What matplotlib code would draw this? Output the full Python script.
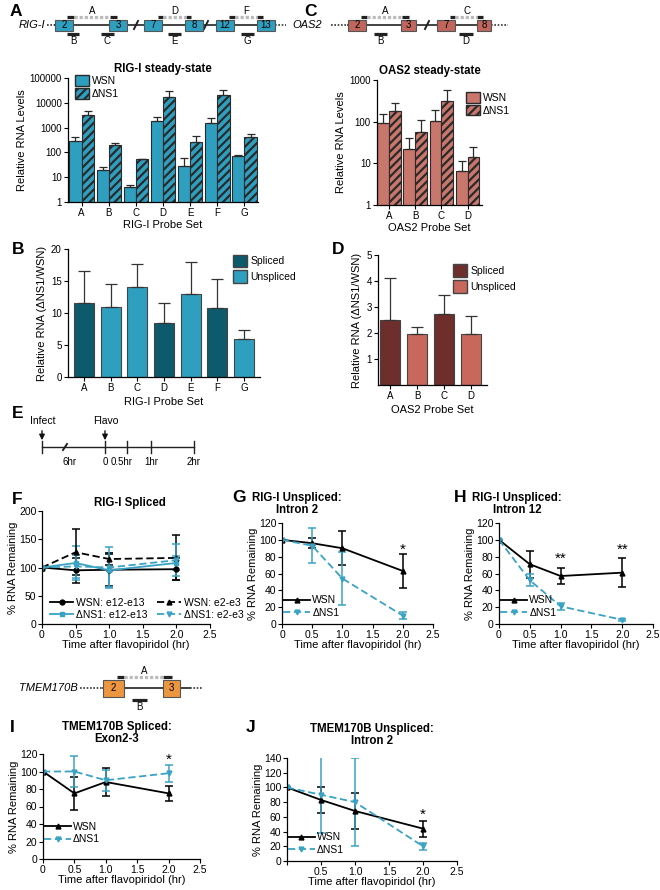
import numpy as np
import matplotlib
matplotlib.use("Agg")
import matplotlib.pyplot as plt
from matplotlib.patches import Rectangle, Patch
from matplotlib.lines import Line2D

plt.rcParams['font.family'] = ['Liberation Sans', 'DejaVu Sans']
plt.rcParams['hatch.linewidth'] = 1.6
plt.rcParams['axes.linewidth'] = 0.9

# ---- data ----
rig_probes = ['A', 'B', 'C', 'D', 'E', 'F', 'G']
rig_wsn = [300, 20, 4, 1800, 28, 1600, 70]
rig_wsn_top = [400, 25, 5, 2800, 60, 2500, 82]
rig_dns1 = [3300, 200, 53, 17000, 270, 20000, 420]
rig_dns1_top = [4600, 235, 56, 29000, 450, 33000, 570]

oas_probes = ['A', 'B', 'C', 'D']
oas_wsn = [95, 22, 102, 6.6]
oas_wsn_top = [155, 41, 190, 11.2]
oas_dns1 = [180, 58, 320, 14]
oas_dns1_top = [285, 110, 580, 24]

rig_ratio = [11.6, 11.0, 14.1, 8.4, 13.0, 10.8, 5.9]
rig_ratio_top = [16.6, 14.5, 17.6, 11.6, 18.0, 15.3, 7.4]
rig_spliced = [True, False, False, True, False, True, False]

oas_ratio = [2.5, 1.95, 2.72, 1.95]
oas_ratio_top = [4.1, 2.22, 3.48, 2.67]
oas_spliced = [True, False, True, False]

t = [0, 0.5, 1.0, 2.0]
# F: RIG-I spliced
f_wsn_1213 = [100, 95, 96, 97]
f_wsn_1213_err = [0, 22, 28, 20]
f_wsn_23 = [100, 127, 115, 117]
f_wsn_23_err = [0, 41, 10, 40]
f_dns_1213 = [100, 108, 95, 108]
f_dns_1213_err = [0, 30, 30, 13]
f_dns_23 = [100, 102, 100, 113]
f_dns_23_err = [0, 20, 37, 28]
# G: RIG-I intron 2
g_wsn = [100, 96, 90, 63]
g_wsn_err = [0, 6, 20, 20]
g_dns = [100, 93, 54, 10]
g_dns_err = [0, 21, 31, 4]
# H: RIG-I intron 12
h_wsn = [100, 71, 57, 61]
h_wsn_err = [0, 16, 9, 17]
h_dns = [100, 52, 21, 5]
h_dns_err = [0, 7, 4, 1]
# I: TMEM170B exon2-3
i_wsn = [100, 75, 88, 75]
i_wsn_err = [0, 19, 16, 9]
i_dns = [100, 100, 90, 98]
i_dns_err = [0, 18, 12, 10]
# J: TMEM170B intron 2
j_wsn = [100, 83, 68, 44]
j_wsn_err = [0, 18, 24, 11]
j_dns = [100, 90, 80, 20]
j_dns_err = [0, 52, 60, 5]

TEAL = '#2f9fc0'
TEAL_DARK = '#0d5a6c'
SALMON = '#c9766c'
BROWN = '#6e2f2c'
SALMON_U = '#c8675c'
ORANGE = '#ec9640'
LINE_T = '#3aa3c4'
EDGE = '#2a2a2a'
DASH = (0, (4, 2))

W, H = 660, 890
fig = plt.figure(figsize=(6.6, 8.9), dpi=100)


def ax_px(l, t_, r, b):
    return fig.add_axes([l / W, 1 - b / H, (r - l) / W, (b - t_) / H])


# overlay in pixel coords for schematics and labels
ov = fig.add_axes([0, 0, 1, 1])
ov.set_xlim(0, W)
ov.set_ylim(H, 0)
ov.axis('off')

for lab, x, y in [('A', 10, 12), ('C', 304, 12), ('B', 12, 250), ('D', 332, 250),
                  ('E', 12, 414), ('F', 12, 500), ('G', 232, 498), ('H', 454, 497),
                  ('I', 10, 727), ('J', 246, 728)]:
    ov.text(x, y, lab, fontsize=12.5, fontweight='bold', ha='left', va='center')


def gene(name, name_x, yc, exons, color, h, dots, line_end, breaks, top_probes, bot_probes):
    ov.text(name_x, yc, name, fontsize=8, style='italic', ha='right', va='center')
    ov.plot([dots[0], exons[0][0]], [yc, yc], ls=(0, (1, 1)), color='#333', lw=1.2)
    ov.plot([exons[0][0], line_end], [yc, yc], color='#222', lw=1.2)
    ov.plot([line_end, dots[1]], [yc, yc], ls=(0, (1, 1)), color='#333', lw=1.2)
    for x in breaks:
        ov.plot([x - 2, x + 2], [yc + 4, yc - 4], color='#222', lw=1.4)
    for x0, x1, lab in exons:
        ov.add_patch(Rectangle((x0, yc - h / 2), x1 - x0, h, fc=color, ec='#555', lw=0.8, zorder=3))
        ov.text((x0 + x1) / 2, yc, lab, fontsize=7, ha='center', va='center', zorder=4)
    for (a0, a1), (b0, b1), lab in top_probes:
        yb = yc - h / 2 - 3
        ov.plot([a0, a1], [yb, yb], color='#222', lw=2.3, solid_capstyle='butt')
        ov.plot([b0, b1], [yb, yb], color='#222', lw=2.3, solid_capstyle='butt')
        ov.plot([a1, b0], [yb, yb], color='#bbb', lw=2.3, ls=(0, (1, 0.6)))
        ov.text((a0 + b1) / 2, yb - 6, lab, fontsize=7, ha='center', va='center')
    for b0, b1, lab in bot_probes:
        yb = yc + h / 2 + 3
        ov.plot([b0, b1], [yb, yb], color='#222', lw=2.3, solid_capstyle='butt')
        ov.text((b0 + b1) / 2, yb + 8, lab, fontsize=7, ha='center', va='center')


gene('RIG-I', 45, 25,
     [(55, 73, '2'), (109, 127, '3'), (144, 162, '7'), (185, 203, '8'), (216, 234, '12'), (257, 275, '13')],
     TEAL, 11, (47, 286), 275, [136, 206],
     [((67, 74), (110, 117), 'A'), ((158, 163), (186, 191), 'D'), ((229, 235), (257, 263), 'F')],
     [(67, 79, 'B'), (101, 114, 'C'), (168, 181, 'E'), (241, 254, 'G')])
gene('OAS2', 322, 25,
     [(348, 366, '2'), (401, 416, '3'), (437, 455, '7'), (477, 491, '8')],
     '#c0665d', 11, (331, 508), 491, [427],
     [((361, 367), (402, 409), 'A'), ((450, 455), (477, 483), 'C')],
     [(374, 387, 'B'), (459, 473, 'D')])
gene('TMEM170B', 78, 688,
     [(103, 124, '2'), (163, 180, '3')],
     ORANGE, 17, (80, 203), 190, [],
     [((117, 124), (163, 172), 'A')],
     [(132, 147, 'B')])

# ---- timeline E ----
ty = 447
ov.plot([42, 194], [ty, ty], color='#222', lw=1)
for x in [42, 105, 127, 151, 194]:
    ov.plot([x, x], [ty - 6, ty + 6], color='#222', lw=1)
ov.plot([63, 67], [ty + 3, ty - 3], color='#222', lw=1.4)
for x, lab in [(70, '6hr'), (105, '0'), (122, '0.5hr'), (151, '1hr'), (194, '2hr')]:
    ov.text(x, ty + 15, lab, fontsize=7, ha='center', va='center')
for x, lab in [(42, 'Infect'), (105, 'Flavo')]:
    ov.text(x + 1, 421, lab, fontsize=7.5, ha='center', va='center')
    ov.annotate('', xy=(x, ty - 4), xytext=(x, 428),
                arrowprops=dict(arrowstyle='-|>', color='#111', lw=1, mutation_scale=8))


def style(ax):
    for s in ['top', 'right']:
        ax.spines[s].set_visible(False)
    ax.tick_params(labelsize=7, length=3, width=0.8, pad=1.5)


# ---- A: RIG-I steady state ----
ax = ax_px(68, 78, 258, 202)
x = np.arange(len(rig_probes))
bw = 0.45
wsn = np.array(rig_wsn)
dns = np.array(rig_dns1)
ax.bar(x - bw / 2, wsn, bw, color=TEAL, edgecolor=EDGE, lw=0.8)
ax.bar(x + bw / 2, dns, bw, color=TEAL, edgecolor=EDGE, lw=0.8, hatch='////')
ax.errorbar(x - bw / 2, wsn, yerr=[np.zeros(7), np.array(rig_wsn_top) - wsn], fmt='none',
            ecolor=EDGE, capsize=3, elinewidth=0.9, capthick=0.9)
ax.errorbar(x + bw / 2, dns, yerr=[np.zeros(7), np.array(rig_dns1_top) - dns], fmt='none',
            ecolor=EDGE, capsize=3, elinewidth=0.9, capthick=0.9)
ax.set_yscale('log')
ax.set_ylim(1, 100000)
ax.set_xlim(-0.5, 6.5)
ax.set_yticks([1, 10, 100, 1000, 10000, 100000])
ax.set_yticklabels(['1', '10', '100', '1000', '10000', '100000'])
ax.yaxis.set_minor_locator(matplotlib.ticker.NullLocator())
ax.set_xticks(x)
ax.set_xticklabels(rig_probes, fontsize=8)
ax.tick_params(axis='x', length=0)
style(ax)
ax.set_ylabel('Relative RNA Levels', fontsize=8, labelpad=2)
ax.set_xlabel('RIG-I Probe Set', fontsize=8, labelpad=1)
ax.set_title('RIG-I steady-state', fontsize=8.3, fontweight='bold', pad=4)
ax.legend(handles=[Patch(fc=TEAL, ec=EDGE, label='WSN'),
                   Patch(fc=TEAL, ec=EDGE, hatch='////', label='ΔNS1')],
          loc='upper left', bbox_to_anchor=(-0.01, 1.1), frameon=False, fontsize=7.5,
          handlelength=1.3, handleheight=1.2, handletextpad=0.3, labelspacing=0.2)

# ---- C: OAS2 steady state ----
ax = ax_px(377, 80, 482, 205)
x = np.arange(len(oas_probes))
wsn = np.array(oas_wsn)
dns = np.array(oas_dns1)
ax.bar(x - bw / 2, wsn, bw, color=SALMON, edgecolor=EDGE, lw=0.8)
ax.bar(x + bw / 2, dns, bw, color=SALMON, edgecolor=EDGE, lw=0.8, hatch='////')
ax.errorbar(x - bw / 2, wsn, yerr=[np.zeros(4), np.array(oas_wsn_top) - wsn], fmt='none',
            ecolor=EDGE, capsize=3, elinewidth=0.9, capthick=0.9)
ax.errorbar(x + bw / 2, dns, yerr=[np.zeros(4), np.array(oas_dns1_top) - dns], fmt='none',
            ecolor=EDGE, capsize=3, elinewidth=0.9, capthick=0.9)
ax.set_yscale('log')
ax.set_ylim(1, 1000)
ax.set_xlim(-0.45, 3.55)
ax.set_yticks([1, 10, 100, 1000])
ax.set_yticklabels(['1', '10', '100', '1000'])
ax.yaxis.set_minor_locator(matplotlib.ticker.NullLocator())
ax.set_xticks(x)
ax.set_xticklabels(oas_probes, fontsize=8)
ax.tick_params(axis='x', length=0)
style(ax)
ax.set_ylabel('Relative RNA Levels', fontsize=8, labelpad=2)
ax.set_xlabel('OAS2 Probe Set', fontsize=8, labelpad=1)
ax.set_title('OAS2 steady-state', fontsize=8.3, fontweight='bold', pad=4)
ax.legend(handles=[Patch(fc=SALMON, ec=EDGE, label='WSN'),
                   Patch(fc=SALMON, ec=EDGE, hatch='////', label='ΔNS1')],
          loc='upper left', bbox_to_anchor=(0.76, 0.98), frameon=False, fontsize=7.5,
          handlelength=1.3, handleheight=1.2, handletextpad=0.3, labelspacing=0.2)

# ---- B: RIG-I ratio ----
ax = ax_px(68, 249, 260, 377)
x = np.arange(len(rig_probes))
cols = [TEAL_DARK if s else TEAL for s in rig_spliced]
vals = np.array(rig_ratio)
ax.bar(x, vals, 0.75, color=cols, edgecolor='#444', lw=0.8)
ax.errorbar(x, vals, yerr=[np.zeros(7), np.array(rig_ratio_top) - vals], fmt='none',
            ecolor='#333', capsize=4, elinewidth=0.9, capthick=0.9)
ax.set_ylim(0, 20)
ax.set_xlim(-0.6, 6.6)
ax.set_yticks([0, 5, 10, 15, 20])
ax.set_xticks(x)
ax.set_xticklabels(rig_probes, fontsize=7.5)
ax.tick_params(axis='x', length=0)
style(ax)
ax.set_ylabel('Relative RNA (ΔNS1/WSN)', fontsize=8, labelpad=3)
ax.set_xlabel('RIG-I Probe Set', fontsize=8, labelpad=3)
ax.legend(handles=[Patch(fc=TEAL_DARK, ec='#444', label='Spliced'),
                   Patch(fc=TEAL, ec='#444', label='Unspliced')],
          loc='upper left', bbox_to_anchor=(0.81, 1.03), frameon=False, fontsize=7.5,
          handlelength=1.4, handleheight=1.5, handletextpad=0.3, labelspacing=0.3)

# ---- D: OAS2 ratio ----
ax = ax_px(378, 255, 487, 385)
x = np.arange(len(oas_probes))
cols = [BROWN if s else SALMON_U for s in oas_spliced]
vals = np.array(oas_ratio)
ax.bar(x, vals, 0.75, color=cols, edgecolor='#444', lw=0.8)
ax.errorbar(x, vals, yerr=[np.zeros(4), np.array(oas_ratio_top) - vals], fmt='none',
            ecolor='#333', capsize=4, elinewidth=0.9, capthick=0.9)
ax.set_ylim(0, 5)
ax.set_xlim(-0.45, 3.6)
ax.set_yticks([1, 2, 3, 4, 5])
ax.set_xticks(x)
ax.set_xticklabels(oas_probes, fontsize=7.5)
ax.tick_params(axis='x', length=0)
style(ax)
ax.set_ylabel('Relative RNA (ΔNS1/WSN)', fontsize=8, labelpad=3)
ax.set_xlabel('OAS2 Probe Set', fontsize=8, labelpad=3)
ax.legend(handles=[Patch(fc=BROWN, ec='#444', label='Spliced'),
                   Patch(fc=SALMON_U, ec='#444', label='Unspliced')],
          loc='upper left', bbox_to_anchor=(0.6, 1.0), frameon=False, fontsize=7.5,
          handlelength=1.4, handleheight=1.5, handletextpad=0.3, labelspacing=0.3)


def series(ax, y, err, color, marker, dashed, label):
    ax.errorbar(t, y, yerr=err, color=color, marker=marker, markersize=3.5,
                ls=DASH if dashed else '-', lw=1.3, capsize=3,
                elinewidth=1.1, capthick=1.1)
    return Line2D([], [], color=color, marker=marker, markersize=3.5,
                  ls=DASH if dashed else '-', lw=1.3, label=label)


def decay_axes(ax, ymax, ystep, zero_x=True):
    ax.set_xlim(0, 2.5)
    ax.set_ylim(0, ymax)
    ax.set_yticks(np.arange(0, ymax + 1, ystep))
    ticks = [0, 0.5, 1.0, 1.5, 2.0, 2.5]
    ax.set_xticks(ticks)
    labs = ['0', '0.5', '1.0', '1.5', '2.0', '2.5']
    if not zero_x:
        labs[0] = ''
    ax.set_xticklabels(labs)
    style(ax)
    ax.tick_params(labelsize=7.5, pad=1)
    ax.set_ylabel('% RNA Remaining', fontsize=8, labelpad=1)
    ax.set_xlabel('Time after flavopiridol (hr)', fontsize=8, labelpad=0.5)


def two_legend(ax, handles, y_anchor):
    ax.legend(handles=handles, loc='lower left', bbox_to_anchor=(-0.02, y_anchor), frameon=False,
              fontsize=7.5, handlelength=2.6, handletextpad=0.2, labelspacing=0.25, borderaxespad=0)


# ---- F ----
ax = ax_px(42, 511, 210, 624)
hs = [series(ax, f_wsn_1213, f_wsn_1213_err, 'black', 'o', False, 'WSN: e12-e13'),
      series(ax, f_dns_1213, f_dns_1213_err, LINE_T, 's', False, 'ΔNS1: e12-e13'),
      series(ax, f_wsn_23, f_wsn_23_err, 'black', '^', True, 'WSN: e2-e3'),
      series(ax, f_dns_23, f_dns_23_err, LINE_T, 'v', True, 'ΔNS1: e2-e3')]
decay_axes(ax, 200, 50)
ax.legend(handles=hs, loc='lower left', bbox_to_anchor=(0.02, 0.0), ncol=2, frameon=False, fontsize=7.5,
          handlelength=2.3, handletextpad=0.2, labelspacing=0.2, columnspacing=1.0, borderaxespad=0)
fig.text(130 / W, 1 - 503 / H, 'RIG-I Spliced', fontsize=8.3, fontweight='bold', ha='center', va='center')

# ---- G ----
ax = ax_px(282, 523, 433, 624)
hs = [series(ax, g_wsn, g_wsn_err, 'black', '^', False, 'WSN'),
      series(ax, g_dns, g_dns_err, LINE_T, 'v', True, 'ΔNS1')]
decay_axes(ax, 120, 20)
two_legend(ax, hs, 0.02)
ax.text(2.0, 88, '*', fontsize=11, ha='center', va='center')
fig.text(297 / W, 1 - 504 / H, 'RIG-I Unspliced:\nIntron 2', fontsize=8.3, fontweight='bold',
         ha='center', va='center', linespacing=1.1)

# ---- H ----
ax = ax_px(499, 523, 653, 624)
hs = [series(ax, h_wsn, h_wsn_err, 'black', '^', False, 'WSN'),
      series(ax, h_dns, h_dns_err, LINE_T, 'v', True, 'ΔNS1')]
decay_axes(ax, 120, 20)
two_legend(ax, hs, 0.02)
ax.text(1.0, 78, '**', fontsize=11, ha='center', va='center')
ax.text(2.0, 88, '**', fontsize=11, ha='center', va='center')
fig.text(517 / W, 1 - 504 / H, 'RIG-I Unspliced:\nIntron 12', fontsize=8.3, fontweight='bold',
         ha='center', va='center', linespacing=1.1)

# ---- I ----
ax = ax_px(43, 754, 200, 859)
hs = [series(ax, i_wsn, i_wsn_err, 'black', '^', False, 'WSN'),
      series(ax, i_dns, i_dns_err, LINE_T, 'v', True, 'ΔNS1')]
decay_axes(ax, 120, 20)
two_legend(ax, hs, 0.1)
ax.text(2.0, 113, '*', fontsize=11, ha='center', va='center')
fig.text(117 / W, 1 - 733 / H, 'TMEM170B Spliced:\nExon2-3', fontsize=8.3, fontweight='bold',
         ha='center', va='center', linespacing=1.1)

# ---- J ----
ax = ax_px(287, 758, 457, 861)
hs = [series(ax, j_wsn, j_wsn_err, 'black', '^', False, 'WSN'),
      series(ax, j_dns, j_dns_err, LINE_T, 'v', True, 'ΔNS1')]
decay_axes(ax, 140, 20, zero_x=False)
two_legend(ax, hs, 0.02)
ax.text(2.0, 63, '*', fontsize=11, ha='center', va='center')
fig.text(372 / W, 1 - 735 / H, 'TMEM170B Unspliced:\nIntron 2', fontsize=8.3, fontweight='bold',
         ha='center', va='center', linespacing=1.1)

fig.savefig('out.png', dpi=100)
